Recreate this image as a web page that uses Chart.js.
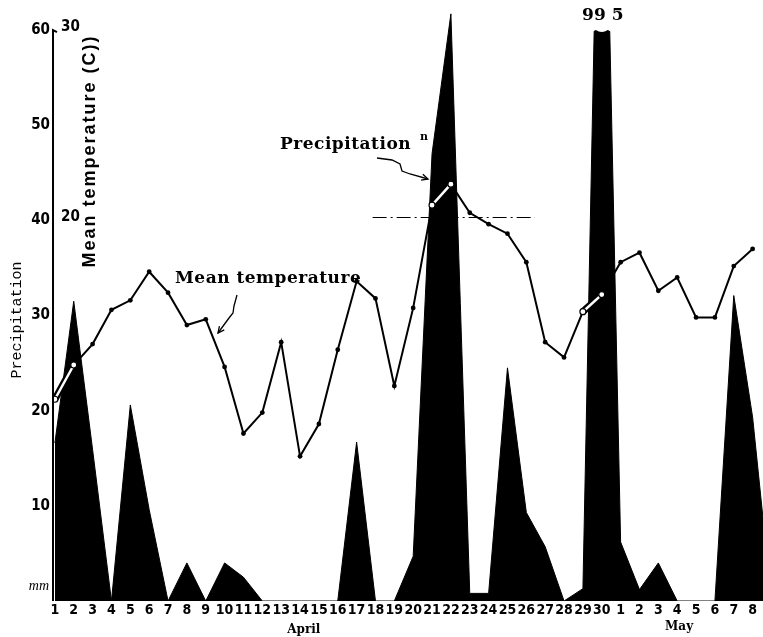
<!DOCTYPE html>
<html>
<head>
<meta charset="utf-8">
<script src="https://cdn.jsdelivr.net/npm/chart.js@4.4.1/dist/chart.umd.min.js"></script>
<style>
  html, body { margin: 0; padding: 0; background: #fff; }
  #wrap { width: 763px; height: 637px; position: relative; }
</style>
</head>
<body>
<div id="wrap"><canvas id="chart"></canvas></div>
<script>
// Days: 1-30 April, then 1-8 May
const dayLabels = ['1','2','3','4','5','6','7','8','9','10','11','12','13','14','15','16','17','18','19','20',
    '21','22','23','24','25','26','27','28','29','30','1','2','3','4','5','6','7','8'];

// Precipitation (mm) per day; last value is the day after 8 May (runs off the right edge)
const precipitation = [16.6, 31.5, 15.9, 0, 20.6, 9.6, 0, 4.0, 0, 4.0, 2.5, 0, 0, 0, 0, 0, 16.7, 0, 0, 4.7,
    47, 61.7, 0.8, 0.8, 24.5, 9.3, 5.7, 0, 1.3, 99.5, 6.2, 1.2, 4.0, 0, 0, 0, 32.1, 19.3, 0];

// Mean temperature (C) per day
const meanTemp = [10.6, 12.4, 13.5, 15.3, 15.8, 17.3, 16.2, 14.5, 14.8, 12.3, 8.8, 9.9, 13.6, 7.6, 9.3, 13.2,
    16.8, 15.9, 11.3, 15.4, 20.8, 21.9, 20.4, 19.8, 19.3, 17.8, 13.6, 12.8, 15.2, 16.1, 17.8, 18.3,
    16.3, 17.0, 14.9, 14.9, 17.6, 18.5];

// highlighted (double line) temperature segments, by day index
const highlightDays = [0, 1, 20, 21, 28, 29];

// dash-dot reference line (precipitation level, from/to day index)
const refLevel = 40.3;
const refFrom = 16.85;
const refTo = 25.45;

const precipAxisTop = 60;
const tempTickLabels = [20, 30];
const truncatedIndex = 29;
const truncatedLabel = '99 5';

const tickFont = { family: "'Liberation Sans Narrow', 'DejaVu Sans Condensed', sans-serif", size: 15, weight: 'bold' };

const toPoints = arr => arr.map((v, i) => ({ x: i, y: v }));
const highlightPoints = meanTemp.map((v, i) => ({ x: i, y: highlightDays.includes(i) ? v : null }));

function squiggle(ctx, pts, tip, dir) {
    ctx.beginPath();
    ctx.moveTo(pts[0][0], pts[0][1]);
    for (let i = 1; i < pts.length; i++) ctx.lineTo(pts[i][0], pts[i][1]);
    ctx.lineTo(tip[0], tip[1]);
    ctx.stroke();
    // arrow head
    const a = Math.atan2(dir[1], dir[0]);
    ctx.beginPath();
    ctx.moveTo(tip[0] - 7 * Math.cos(a - 0.45), tip[1] - 7 * Math.sin(a - 0.45));
    ctx.lineTo(tip[0], tip[1]);
    ctx.lineTo(tip[0] - 7 * Math.cos(a + 0.45), tip[1] - 7 * Math.sin(a + 0.45));
    ctx.stroke();
}

const decorPlugin = {
    id: 'decor',
    afterDatasetsDraw(chart) {
        const { ctx, chartArea, scales: { x, y, yT } } = chart;
        ctx.save();

        // cut the off-scale bar at the top of the axis
        const xc = x.getPixelForValue(truncatedIndex);
        const top = y.getPixelForValue(precipAxisTop);
        ctx.fillStyle = '#fff';
        ctx.beginPath();
        ctx.moveTo(xc - 18, 0);
        ctx.lineTo(xc + 18, 0);
        ctx.lineTo(xc + 18, top);
        for (let k = 0; k < 3; k++) {
            const x0 = xc + 18 - k * 12;
            ctx.quadraticCurveTo(x0 - 6, top + 4, x0 - 12, top);
        }
        ctx.closePath();
        ctx.fill();

        // precipitation axis line, 0 to 60
        ctx.strokeStyle = '#000';
        ctx.lineWidth = 2;
        ctx.beginPath();
        ctx.moveTo(chartArea.left, y.getPixelForValue(0));
        ctx.lineTo(chartArea.left, top);
        ctx.lineTo(chartArea.left + 4, top + 2);
        ctx.stroke();

        ctx.fillStyle = '#000';
        ctx.textBaseline = 'alphabetic';
        ctx.textAlign = 'center';
        ctx.font = "bold 17px 'DejaVu Serif', serif";
        ctx.fillText(truncatedLabel, xc + 1, 20);

        // temperature scale labels
        ctx.font = `bold 15px ${tickFont.family}`;
        ctx.textAlign = 'left';
        ctx.textBaseline = 'middle';
        tempTickLabels.forEach(t => ctx.fillText(String(t), 61, yT.getPixelForValue(t) - 3));

        // unit label at zero
        ctx.font = "italic 14px 'Liberation Serif', serif";
        ctx.textAlign = 'right';
        ctx.fillText('mm', 49, y.getPixelForValue(1.5));

        // axis titles
        ctx.save();
        ctx.translate(17, 320);
        ctx.rotate(-Math.PI / 2);
        ctx.textAlign = 'center';
        ctx.font = "15px 'Liberation Mono', monospace";
        ctx.fillText('Precipitation', 0, 0);
        ctx.restore();

        ctx.save();
        ctx.translate(90, 151);
        ctx.rotate(-Math.PI / 2);
        ctx.textAlign = 'center';
        ctx.font = "bold 18px 'Liberation Sans', sans-serif";
        ctx.letterSpacing = '2px';
        ctx.fillText('Mean temperature (C))', 0, 0);
        ctx.restore();

        // month labels
        ctx.textAlign = 'center';
        ctx.textBaseline = 'alphabetic';
        ctx.font = "bold 12px 'DejaVu Serif', serif";
        ctx.fillText('April', x.getPixelForValue(13.2), 633);
        ctx.fillText('May', x.getPixelForValue(33.1), 630);

        // annotations
        ctx.textAlign = 'left';
        ctx.font = "bold 17px 'DejaVu Serif', serif";
        ctx.letterSpacing = '0.5px';
        ctx.fillText('Mean temperature', 175, 283);
        ctx.fillText('Precipitation', 280, 149);
        ctx.letterSpacing = '0px';
        ctx.font = "bold 11px 'DejaVu Serif', serif";
        ctx.fillText('n', 420, 140);

        ctx.strokeStyle = '#000';
        ctx.lineWidth = 1.3;
        squiggle(ctx, [[237, 295], [234, 306], [233, 313], [229, 318]], [218, 333], [-1, 1.3]);
        squiggle(ctx, [[377, 158], [392, 160], [400, 164], [402, 171], [410, 174]], [428, 179], [1, 0.3]);

        ctx.restore();
    }
};

new Chart(document.getElementById('chart'), {
    type: 'line',
    data: {
        datasets: [
            {
                label: 'highlight',
                data: highlightPoints,
                yAxisID: 'yT',
                borderColor: '#fff',
                borderWidth: 2.5,
                pointRadius: ctx => (ctx.raw && ctx.raw.y !== null ? 3 : 0),
                pointBackgroundColor: '#fff',
                pointBorderColor: '#000',
                pointBorderWidth: 1.2,
                spanGaps: false
            },
            {
                label: 'highlight outline',
                data: highlightPoints,
                yAxisID: 'yT',
                borderColor: '#000',
                borderWidth: 7,
                pointRadius: 0,
                spanGaps: false
            },
            {
                label: 'Mean temperature',
                data: toPoints(meanTemp),
                yAxisID: 'yT',
                borderColor: '#000',
                borderWidth: 2,
                pointRadius: 2.4,
                pointBackgroundColor: '#000',
                pointBorderWidth: 0,
                tension: 0
            },
            {
                label: 'reference',
                data: [{ x: refFrom, y: refLevel }, { x: refTo, y: refLevel }],
                yAxisID: 'y',
                borderColor: '#000',
                borderWidth: 1.2,
                borderDash: [14, 4, 2, 4],
                pointRadius: 0
            },
            {
                label: 'Precipitation',
                data: toPoints(precipitation),
                yAxisID: 'y',
                borderColor: '#000',
                backgroundColor: '#000',
                borderWidth: 1,
                fill: 'origin',
                pointRadius: 0,
                tension: 0
            }
        ]
    },
    options: {
        responsive: true,
        maintainAspectRatio: false,
        animation: false,
        devicePixelRatio: 1,
        layout: { autoPadding: false, padding: { top: 11, left: 0, right: 0, bottom: 0 } },
        plugins: { legend: { display: false }, tooltip: { enabled: false } },
        scales: {
            x: {
                type: 'linear',
                min: -0.1,
                max: 37.55,
                grid: { display: false, drawTicks: false },
                border: { display: false },
                afterFit: s => { s.height = 36; s.paddingLeft = 0; s.paddingRight = 0; },
                afterBuildTicks: s => { s.ticks = dayLabels.map((_, i) => ({ value: i })); },
                ticks: {
                    autoSkip: false,
                    maxRotation: 0,
                    padding: 1,
                    color: '#000',
                    font: { ...tickFont, size: 14 },
                    callback: v => dayLabels[v]
                }
            },
            y: {
                position: 'left',
                min: 0,
                max: 62,
                grid: { display: false, drawTicks: false },
                border: { display: false },
                afterFit: s => { s.width = 53; s.paddingTop = 0; s.paddingBottom = 0; },
                ticks: {
                    stepSize: 10,
                    padding: 3,
                    color: '#000',
                    font: tickFont,
                    callback: v => (v !== 0 && v % 10 === 0 ? v : '')
                }
            },
            yT: {
                display: false,
                min: 0,
                max: 31
            }
        }
    },
    plugins: [decorPlugin]
});
</script>
</body>
</html>
